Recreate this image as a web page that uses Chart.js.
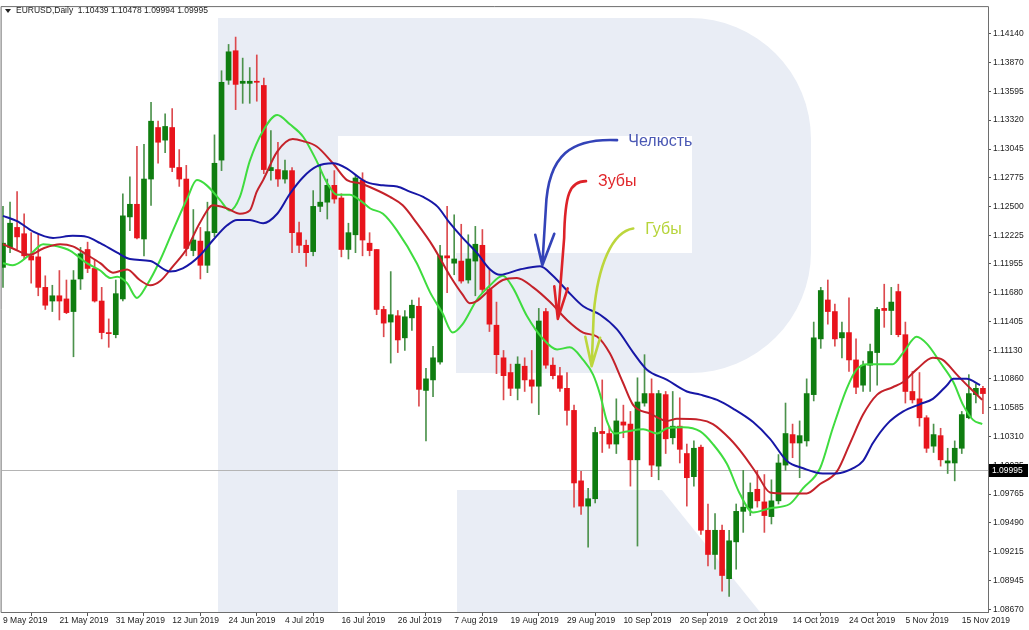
<!DOCTYPE html>
<html>
<head>
<meta charset="utf-8">
<title>EURUSD Daily - Alligator</title>
<script src="https://cdn.jsdelivr.net/npm/chart.js@4.4.1/dist/chart.umd.min.js"></script>
<style>
  html, body { margin: 0; padding: 0; background: #fff; }
  #wrap { width: 1029px; height: 630px; }
</style>
</head>
<body>
<div id="wrap"><canvas id="chart" width="1029" height="630"></canvas></div>
<script>
// one label every 8 bars, starting at bar 0 (9 May 2019)
const dateLabels = ['9 May 2019', '21 May 2019', '31 May 2019', '12 Jun 2019', '24 Jun 2019', '4 Jul 2019',
    '16 Jul 2019', '26 Jul 2019', '7 Aug 2019', '19 Aug 2019', '29 Aug 2019', '10 Sep 2019', '20 Sep 2019',
    '2 Oct 2019', '14 Oct 2019', '24 Oct 2019', '5 Nov 2019', '15 Nov 2019'];
const labelStep = 8;

// daily candles
const opens = [
    1.1192, 1.1211, 1.1230, 1.1224, 1.1203, 1.1202, 1.1173, 1.1160, 1.1165, 1.1162,
    1.1150, 1.1181, 1.1209, 1.1191, 1.1160, 1.1130, 1.1128, 1.1162, 1.1240, 1.1252,
    1.1219, 1.1276, 1.1325, 1.1313, 1.1325, 1.1287, 1.1276, 1.1208, 1.1217, 1.1194,
    1.1225, 1.1294, 1.1370, 1.1398, 1.1367, 1.1367, 1.1369, 1.1365, 1.1284, 1.1285,
    1.1276, 1.1284, 1.1225, 1.1213, 1.1207, 1.1250, 1.1254, 1.1270, 1.1258, 1.1209,
    1.1223, 1.1275, 1.1215, 1.1209, 1.1152, 1.1140, 1.1146, 1.1125, 1.1144, 1.1155,
    1.1075, 1.1085, 1.1102, 1.1203, 1.1196, 1.1198, 1.1180, 1.1198, 1.1213, 1.1171,
    1.1137, 1.1106, 1.1092, 1.1077, 1.1098, 1.1085, 1.1079, 1.1150, 1.1099, 1.1089,
    1.1077, 1.1056, 1.0989, 1.0965, 1.0972, 1.1036, 1.1034, 1.1024, 1.1045, 1.1043,
    1.1009, 1.1063, 1.1072, 1.1003, 1.1071, 1.1030, 1.1041, 1.1015, 1.0993, 1.1021,
    1.0942, 1.0919, 1.0942, 1.0896, 1.0931, 1.0960, 1.0963, 1.0981, 1.0969, 1.0955,
    1.0970, 1.1004, 1.1033, 1.1025, 1.1027, 1.1071, 1.1124, 1.1161, 1.1150, 1.1125,
    1.1130, 1.1104, 1.1080, 1.1099, 1.1111, 1.1153, 1.1151, 1.1169, 1.1128, 1.1074,
    1.1067, 1.1049, 1.1022, 1.1032, 1.1006, 1.1006, 1.1020, 1.1049, 1.1071, 1.1077
];
const highs = [
    1.1250, 1.1254, 1.1264, 1.1243, 1.1225, 1.1224, 1.1184, 1.1175, 1.1189, 1.1180,
    1.1189, 1.1211, 1.1216, 1.1199, 1.1173, 1.1143, 1.1180, 1.1262, 1.1278, 1.1307,
    1.1309, 1.1349, 1.1331, 1.1338, 1.1343, 1.1304, 1.1289, 1.1247, 1.1230, 1.1254,
    1.1318, 1.1379, 1.1404, 1.1411, 1.1391, 1.1382, 1.1394, 1.1372, 1.1322, 1.1311,
    1.1294, 1.1287, 1.1235, 1.1218, 1.1265, 1.1289, 1.1276, 1.1284, 1.1262, 1.1234,
    1.1279, 1.1282, 1.1225, 1.1209, 1.1155, 1.1188, 1.1151, 1.1151, 1.1161, 1.1163,
    1.1096, 1.1117, 1.1213, 1.1250, 1.1242, 1.1233, 1.1223, 1.1231, 1.1228, 1.1190,
    1.1159, 1.1113, 1.1100, 1.1107, 1.1106, 1.1113, 1.1153, 1.1153, 1.1106, 1.1097,
    1.1092, 1.1061, 1.0998, 1.0982, 1.1040, 1.1085, 1.1041, 1.1067, 1.1061, 1.1055,
    1.1087, 1.1109, 1.1086, 1.1075, 1.1074, 1.1074, 1.1068, 1.1024, 1.1027, 1.1023,
    1.0967, 1.0958, 1.0947, 1.0942, 1.0967, 1.0999, 1.0987, 1.0999, 1.0995, 1.0990,
    1.1014, 1.1063, 1.1043, 1.1046, 1.1086, 1.1140, 1.1173, 1.1180, 1.1157, 1.1140,
    1.1163, 1.1124, 1.1103, 1.1119, 1.1154, 1.1176, 1.1173, 1.1176, 1.1140, 1.1093,
    1.1092, 1.1051, 1.1043, 1.1039, 1.1020, 1.1027, 1.1055, 1.1090, 1.1081, 1.1079
];
const lows = [
    1.1173, 1.1206, 1.1209, 1.1200, 1.1177, 1.1165, 1.1152, 1.1150, 1.1142, 1.1148,
    1.1107, 1.1171, 1.1187, 1.1159, 1.1124, 1.1116, 1.1125, 1.1160, 1.1227, 1.1219,
    1.1203, 1.1251, 1.1291, 1.1301, 1.1283, 1.1269, 1.1203, 1.1203, 1.1181, 1.1187,
    1.1221, 1.1284, 1.1366, 1.1342, 1.1348, 1.1348, 1.1350, 1.1281, 1.1275, 1.1269,
    1.1272, 1.1206, 1.1206, 1.1193, 1.1203, 1.1245, 1.1238, 1.1253, 1.1202, 1.1200,
    1.1206, 1.1203, 1.1203, 1.1147, 1.1126, 1.1101, 1.1111, 1.1113, 1.1132, 1.1060,
    1.1027, 1.1069, 1.1100, 1.1168, 1.1185, 1.1177, 1.1177, 1.1165, 1.1168, 1.1131,
    1.1091, 1.1066, 1.1070, 1.1066, 1.1074, 1.1063, 1.1052, 1.1096, 1.1086, 1.1074,
    1.1042, 1.0964, 1.0957, 1.0926, 1.0968, 1.1016, 1.1020, 1.1015, 1.1030, 1.0984,
    1.0927, 1.1060, 1.0993, 1.0990, 1.1015, 1.1024, 1.1006, 1.0965, 1.0984, 1.0938,
    1.0908, 1.0905, 1.0884, 1.0879, 1.0905, 1.0940, 1.0956, 1.0964, 1.0940, 1.0948,
    1.0967, 1.0999, 1.1011, 1.0992, 1.1022, 1.1065, 1.1115, 1.1138, 1.1117, 1.1106,
    1.1093, 1.1072, 1.1074, 1.1074, 1.1080, 1.1135, 1.1128, 1.1126, 1.1063, 1.1063,
    1.1041, 1.1016, 1.1016, 1.1003, 1.0996, 1.0989, 1.1015, 1.1048, 1.1063, 1.1053
];
const closes = [
    1.1215, 1.1234, 1.1221, 1.1203, 1.1199, 1.1173, 1.1156, 1.1165, 1.1160, 1.1149,
    1.1180, 1.1205, 1.1191, 1.1160, 1.1130, 1.1129, 1.1167, 1.1241, 1.1252, 1.1220,
    1.1276, 1.1331, 1.1311, 1.1326, 1.1287, 1.1276, 1.1210, 1.1218, 1.1194, 1.1226,
    1.1291, 1.1368, 1.1397, 1.1366, 1.1369, 1.1369, 1.1368, 1.1285, 1.1287, 1.1276,
    1.1284, 1.1225, 1.1213, 1.1206, 1.1250, 1.1254, 1.1270, 1.1257, 1.1209, 1.1225,
    1.1277, 1.1218, 1.1208, 1.1152, 1.1139, 1.1147, 1.1123, 1.1145, 1.1156, 1.1076,
    1.1086, 1.1106, 1.1203, 1.1201, 1.1200, 1.1179, 1.1200, 1.1214, 1.1171, 1.1138,
    1.1109, 1.1089, 1.1077, 1.1100, 1.1085, 1.1079, 1.1141, 1.1099, 1.1089, 1.1077,
    1.1056, 1.0987, 1.0965, 1.0972, 1.1035, 1.1034, 1.1024, 1.1046, 1.1042, 1.1009,
    1.1064, 1.1072, 1.1004, 1.1072, 1.1029, 1.1041, 1.1019, 1.0992, 1.1020, 1.0942,
    1.0919, 1.0942, 1.0899, 1.0932, 1.0960, 1.0964, 1.0978, 1.0970, 1.0956, 1.0970,
    1.1006, 1.1034, 1.1025, 1.1032, 1.1072, 1.1125, 1.1170, 1.1150, 1.1124, 1.1130,
    1.1104, 1.1078, 1.1099, 1.1112, 1.1152, 1.1151, 1.1159, 1.1128, 1.1074, 1.1066,
    1.1049, 1.1020, 1.1033, 1.1009, 1.1008, 1.1020, 1.1052, 1.1072, 1.1077, 1.1072
];

// Alligator lines, read at these bar positions
const jawBars = [0, 2, 4.3, 7.1, 9.9, 11.9, 13.8, 16.2, 18, 20.9, 23.7, 25.5, 27.9, 29.8, 31.8, 33.2, 35, 36.9,
    38.9, 40.7, 42.6, 44.5, 46.8, 48.8, 50.2, 51.6, 53.9, 55.9, 57.7, 59.6, 61.6, 63.4, 65.2, 67.2, 69.1, 70.5,
    73.3, 76.2, 78, 80, 82.3, 84.7, 87.1, 89.4, 91.3, 94.2, 97, 98.9, 101.3, 103.5, 106.4, 108.8, 111.2, 113.5,
    116.3, 118.3, 120.6, 122, 123.4, 125.4, 127.7, 130.1, 131.9, 133.9, 134.8, 136.7, 138.6];
const jawValues = [1.1241, 1.1236, 1.1226, 1.1220, 1.1222, 1.1221, 1.1215, 1.1206, 1.1200, 1.1198, 1.1188,
    1.1191, 1.1203, 1.1218, 1.1232, 1.1237, 1.1237, 1.1234, 1.1243, 1.1262, 1.1278, 1.1288, 1.1291, 1.1286,
    1.1279, 1.1273, 1.1270, 1.1269, 1.1264, 1.1259, 1.1250, 1.1234, 1.1220, 1.1206, 1.1190, 1.1185, 1.1190,
    1.1193, 1.1184, 1.1170, 1.1155, 1.1147, 1.1133, 1.1111, 1.1095, 1.1085, 1.1074, 1.1071, 1.1066, 1.1058,
    1.1045, 1.1029, 1.1008, 1.1001, 1.0996, 1.0996, 1.1001, 1.1008, 1.1025, 1.1043, 1.1055, 1.1062, 1.1067,
    1.1080, 1.1086, 1.1086, 1.1080];

const teethBars = [0, 1.4, 3.8, 5.7, 8.1, 9.9, 11.9, 13.8, 15.6, 17.6, 19.4, 20.9, 22.3, 24.1, 26.1, 27.9, 29.8,
    31.8, 33.6, 35, 36, 36.9, 38.9, 41.1, 42.6, 44.5, 46.8, 48.8, 50.6, 52.5, 54.9, 56.7, 58.7, 61, 63.4, 65.2,
    66.2, 67.2, 69.1, 70.9, 72.9, 75.2, 77.6, 80, 82.3, 84.3, 86.1, 87.9, 89.4, 91.8, 94.2, 95.6, 98.9, 100.7,
    103.1, 105, 107, 108.8, 111.2, 114, 115.9, 118.3, 120.1, 122, 124, 126.2, 127.7, 129.6, 131.9, 133.3, 135.3,
    137.2, 138.9];
const teethValues = [1.1214, 1.1210, 1.1204, 1.1210, 1.1214, 1.1212, 1.1204, 1.1196, 1.1187, 1.1190, 1.1180,
    1.1175, 1.1179, 1.1193, 1.1210, 1.1234, 1.1251, 1.1248, 1.1243, 1.1246, 1.1264, 1.1275, 1.1302, 1.1314,
    1.1312, 1.1307, 1.1291, 1.1275, 1.1272, 1.1267, 1.1259, 1.1251, 1.1234, 1.1212, 1.1184, 1.1166, 1.1158,
    1.1160, 1.1171, 1.1180, 1.1182, 1.1173, 1.1159, 1.1142, 1.1130, 1.1126, 1.1110, 1.1083, 1.1061, 1.1053,
    1.1046, 1.1048, 1.1047, 1.1043, 1.1029, 1.1014, 1.0995, 1.0978, 1.0977, 1.0977, 1.0986, 1.0998, 1.1024,
    1.1052, 1.1071, 1.1078, 1.1083, 1.1095, 1.1106, 1.1104, 1.1090, 1.1077, 1.1066];

const lipsBars = [0, 1.4, 3.8, 5.7, 7.7, 9.5, 11.9, 13.8, 15.2, 16.2, 17.6, 19, 20.4, 22.3, 24.1, 26.1, 27.5,
    28.9, 30.8, 32.2, 33.6, 35, 36.9, 38.9, 40.7, 42.6, 44.5, 46, 47.4, 49.2, 50.6, 52.1, 53.9, 55.9, 58.7, 60.6,
    62.3, 63.8, 65.2, 67.2, 69.1, 70.9, 72.3, 74.3, 76.6, 78.6, 80.4, 82.3, 83.7, 84.7, 85.7, 86.8, 88.5, 90.8,
    92.8, 94.2, 96.5, 98.9, 100.7, 102.7, 104.5, 106.4, 108.8, 111.6, 113.5, 115.9, 117.7, 119.7, 121.1, 122.6,
    126.2, 127.7, 129.6, 131.1, 132.9, 134.8, 136.2, 137.6, 138.9];
const lipsValues = [1.1196, 1.1194, 1.1204, 1.1214, 1.1212, 1.1208, 1.1196, 1.1189, 1.1182, 1.1183, 1.1177,
    1.1163, 1.1175, 1.1199, 1.1227, 1.1257, 1.1275, 1.1270, 1.1256, 1.1246, 1.1259, 1.1293, 1.1322, 1.1337,
    1.1328, 1.1316, 1.1293, 1.1272, 1.1261, 1.1261, 1.1256, 1.1248, 1.1243, 1.1227, 1.1196, 1.1168, 1.1149,
    1.1130, 1.1138, 1.1161, 1.1175, 1.1184, 1.1173, 1.1146, 1.1124, 1.1114, 1.1116, 1.1104, 1.1090, 1.1071,
    1.1045, 1.1034, 1.1036, 1.1038, 1.1034, 1.1039, 1.1040, 1.1036, 1.1024, 1.1005, 1.0977, 1.0959, 1.0963,
    1.0967, 1.0982, 1.1001, 1.1039, 1.1077, 1.1095, 1.1100, 1.1100, 1.1111, 1.1126, 1.1119, 1.1102, 1.1083,
    1.1061, 1.1047, 1.1043];

// price scale labels on the right
const yTicks = [1.14140, 1.13870, 1.13595, 1.13320, 1.13045, 1.12775, 1.12500, 1.12225, 1.11955, 1.11680,
    1.11405, 1.11130, 1.10860, 1.10585, 1.10310, 1.10035, 1.09765, 1.09490, 1.09215, 1.08945, 1.08670];

const headerText = 'EURUSD,Daily  1.10439 1.10478 1.09994 1.09995';
const bidPrice = 1.09995;

// hand drawn notes: [bar, price] for start, two curve controls, bend, tip, arrow head sides
const notes = [
    { text: 'Челюсть', at: [88.7, 1.1312], color: '#4a58b4', line: '#3343b8',
      path: [[87.1, 1.1313], [80.7, 1.1315], [77.3, 1.1300], [77.0, 1.1248], [76.5, 1.1194], [75.5, 1.1223], [78.2, 1.1224]] },
    { text: 'Зубы', at: [84.4, 1.1274], color: '#e0262a', line: '#dd2228',
      path: [[82.7, 1.1274], [80.4, 1.1274], [79.7, 1.1262], [79.6, 1.1220], [78.7, 1.1143], [78.2, 1.1174], [80.1, 1.1172]] },
    { text: 'Губы', at: [91.1, 1.1228], color: '#b6d43a', line: '#bcd63c',
      path: [[89.4, 1.1229], [86.4, 1.1226], [84.4, 1.1194], [83.8, 1.1149], [83.5, 1.1098], [82.6, 1.1126], [84.7, 1.1125]] }
];

const upColor = '#0f7d10';
const downColor = '#e8141c';
const upWick = '#4c924c';
const downWick = '#dc4a4e';

const barsIdx = opens.map((_, i) => i);
const isUp = opens.map((o, i) => closes[i] >= o);

// background logo, price line, frame, header and notes
const decorPlugin = {
    id: 'decor',
    beforeDraw(chart) {
        const ctx = chart.ctx;
        ctx.save();
        ctx.fillStyle = '#ffffff';
        ctx.fillRect(0, 0, chart.width, chart.height);
        ctx.fillStyle = '#e9edf5';
        ctx.beginPath();
        // outer body of the letter
        ctx.moveTo(218, 18);
        ctx.lineTo(690, 18);
        ctx.arc(690, 139, 121, -Math.PI / 2, 0);
        ctx.arc(690, 252, 121, 0, Math.PI / 2);
        ctx.lineTo(456, 373);
        ctx.lineTo(456, 253);
        ctx.lineTo(338, 253);
        ctx.lineTo(338, 612);
        ctx.lineTo(218, 612);
        ctx.closePath();
        ctx.fill();
        // leg
        ctx.beginPath();
        ctx.moveTo(457, 490);
        ctx.lineTo(662, 490);
        ctx.lineTo(760, 612);
        ctx.lineTo(457, 612);
        ctx.closePath();
        ctx.fill();
        // counter (hole)
        ctx.fillStyle = '#ffffff';
        ctx.fillRect(338, 136, 354, 117);
        ctx.restore();
    },
    beforeDatasetsDraw(chart) {
        const {ctx, chartArea, scales} = chart;
        const y = Math.round(scales.y.getPixelForValue(bidPrice)) + 0.5;
        ctx.save();
        ctx.strokeStyle = '#b4b4b4';
        ctx.lineWidth = 1;
        ctx.beginPath();
        ctx.moveTo(chartArea.left, y);
        ctx.lineTo(chartArea.right, y);
        ctx.stroke();
        ctx.restore();
    },
    afterDraw(chart) {
        const {ctx, chartArea, scales} = chart;
        const X = (b) => scales.x.getPixelForValue(b);
        const Y = (p) => scales.y.getPixelForValue(p);
        ctx.save();

        // notes
        notes.forEach(n => {
            const p = n.path.map(q => [X(q[0]), Y(q[1])]);
            ctx.strokeStyle = n.line;
            ctx.lineWidth = 2.6;
            ctx.lineCap = 'round';
            ctx.lineJoin = 'round';
            ctx.beginPath();
            ctx.moveTo(p[0][0], p[0][1]);
            ctx.bezierCurveTo(p[1][0], p[1][1], p[2][0], p[2][1], p[3][0], p[3][1]);
            ctx.lineTo(p[4][0], p[4][1]);
            ctx.moveTo(p[5][0], p[5][1]);
            ctx.lineTo(p[4][0], p[4][1]);
            ctx.lineTo(p[6][0], p[6][1]);
            ctx.stroke();
            ctx.fillStyle = n.color;
            ctx.font = '16px "Liberation Sans", Arial, sans-serif';
            ctx.textBaseline = 'middle';
            ctx.textAlign = 'left';
            ctx.fillText(n.text, X(n.at[0]), Y(n.at[1]));
        });

        // frame
        ctx.strokeStyle = '#6e6e6e';
        ctx.lineWidth = 1;
        ctx.strokeRect(chartArea.left - 0.5, chartArea.top - 0.5,
            chartArea.right - chartArea.left + 1, chartArea.bottom - chartArea.top + 1);

        // header
        ctx.fillStyle = '#222';
        ctx.beginPath();
        ctx.moveTo(5, 9);
        ctx.lineTo(11, 9);
        ctx.lineTo(8, 13);
        ctx.closePath();
        ctx.fill();
        ctx.font = '8.5px "Liberation Sans", Arial, sans-serif';
        ctx.textBaseline = 'middle';
        ctx.textAlign = 'left';
        ctx.fillText(headerText, 16, 11);

        // bid price tag on the scale
        const yb = Math.round(Y(bidPrice));
        ctx.fillStyle = '#000';
        ctx.fillRect(chartArea.right + 1, yb - 6, 39, 13);
        ctx.fillStyle = '#fff';
        ctx.fillText(bidPrice.toFixed(5), chartArea.right + 4, yb + 0.5);
        ctx.restore();
    }
};

const ctx = document.getElementById('chart').getContext('2d');
new Chart(ctx, {
    type: 'bar',
    data: {
        datasets: [
            {
                type: 'line', label: 'Jaw', order: 0,
                data: jawBars.map((b, k) => ({ x: b, y: jawValues[k] })),
                borderColor: '#1717a6', borderWidth: 2, pointRadius: 0,
                cubicInterpolationMode: 'monotone'
            },
            {
                type: 'line', label: 'Teeth', order: 0,
                data: teethBars.map((b, k) => ({ x: b, y: teethValues[k] })),
                borderColor: '#c4222a', borderWidth: 2, pointRadius: 0,
                cubicInterpolationMode: 'monotone'
            },
            {
                type: 'line', label: 'Lips', order: 0,
                data: lipsBars.map((b, k) => ({ x: b, y: lipsValues[k] })),
                borderColor: '#3fdc3f', borderWidth: 2, pointRadius: 0,
                cubicInterpolationMode: 'monotone'
            },
            {
                label: 'Body', order: 1,
                data: barsIdx.map(i => ({ x: i, y: [opens[i], closes[i]] })),
                backgroundColor: barsIdx.map(i => isUp[i] ? upColor : downColor),
                barThickness: 5, minBarLength: 1, grouped: false
            },
            {
                label: 'Wick', order: 2,
                data: barsIdx.map(i => ({ x: i, y: [lows[i], highs[i]] })),
                backgroundColor: barsIdx.map(i => isUp[i] ? upWick : downWick),
                barThickness: 1, minBarLength: 1, grouped: false
            }
        ]
    },
    options: {
        responsive: false,
        animation: false,
        events: [],
        layout: { padding: { left: 2, top: 2, right: 0, bottom: 0 } },
        plugins: { legend: { display: false }, tooltip: { enabled: false } },
        scales: {
            x: {
                type: 'linear',
                min: -0.14,
                max: 139.72,
                offset: false,
                afterBuildTicks: (s) => { s.ticks = dateLabels.map((_, k) => ({ value: k * labelStep })); },
                afterFit: (s) => { s.height = 18; },
                ticks: {
                    autoSkip: false, maxRotation: 0, align: 'start', padding: 0,
                    color: '#222', font: { family: '"Liberation Sans", Arial, sans-serif', size: 8.5 },
                    callback: (v, i) => dateLabels[i]
                },
                grid: { drawOnChartArea: false, drawTicks: true, tickLength: 4, color: '#555' },
                border: { display: true, color: '#6e6e6e' }
            },
            y: {
                type: 'linear',
                position: 'right',
                min: 1.08643,
                max: 1.14395,
                afterBuildTicks: (s) => { s.ticks = yTicks.map(v => ({ value: v })); },
                afterFit: (s) => { s.width = 41; },
                ticks: {
                    padding: 2, color: '#222',
                    font: { family: '"Liberation Sans", Arial, sans-serif', size: 8.5 },
                    callback: (v) => Number(v).toFixed(5)
                },
                grid: { drawOnChartArea: false, drawTicks: true, tickLength: 3, color: '#555' },
                border: { display: true, color: '#6e6e6e' }
            }
        }
    },
    plugins: [decorPlugin]
});
</script>
</body>
</html>
